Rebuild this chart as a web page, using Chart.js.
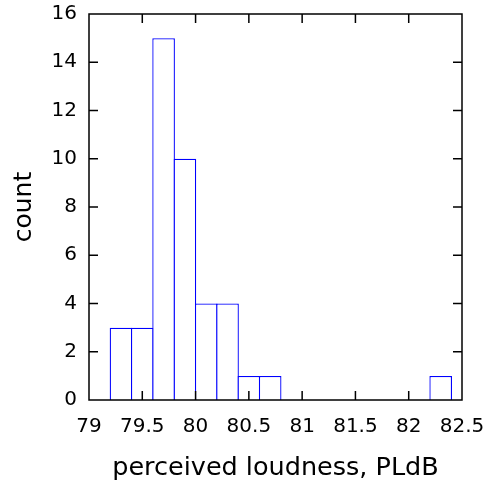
<!DOCTYPE html>
<html>
<head>
<meta charset="utf-8">
<script src="https://cdn.jsdelivr.net/npm/chart.js@4/dist/chart.umd.min.js"></script>
<style>
  body { margin: 0; background: #fff; }
  #wrap { width: 486px; height: 485px; }
</style>
</head>
<body>
<div id="wrap"><canvas id="hist" width="486" height="485"></canvas></div>
<script>
// histogram of perceived loudness (bin centres, width 0.2 PLdB)
const binCenters = [79.3, 79.5, 79.7, 79.9, 80.1, 80.3, 80.5, 80.7, 82.3];
const counts     = [3, 3, 15, 10, 4, 4, 1, 1, 1];
const xTicks = [79, 79.5, 80, 80.5, 81, 81.5, 82, 82.5];
const yTicks = [0, 2, 4, 6, 8, 10, 12, 14, 16];

const FONT = "'DejaVu Sans', Verdana, sans-serif";
const LINE = 1.3;

// gnuplot style frame with inward ticks on all four sides
const framePlugin = {
    id: 'frame',
    afterDraw(chart) {
        const ctx = chart.ctx;
        const a = chart.chartArea;
        const xs = chart.scales.x, ys = chart.scales.y;
        const len = 9;
        ctx.save();
        ctx.strokeStyle = '#000';
        ctx.lineWidth = 1.5;
        ctx.beginPath();
        xs.ticks.forEach((t, i) => {
            if (i === 0 || i === xs.ticks.length - 1) return;
            const px = xs.getPixelForTick(i);
            ctx.moveTo(px, a.bottom); ctx.lineTo(px, a.bottom - len);
            ctx.moveTo(px, a.top); ctx.lineTo(px, a.top + len);
        });
        ys.ticks.forEach((t, i) => {
            if (i === 0 || i === ys.ticks.length - 1) return;
            const py = ys.getPixelForTick(i);
            ctx.moveTo(a.left, py); ctx.lineTo(a.left + len, py);
            ctx.moveTo(a.right, py); ctx.lineTo(a.right - len, py);
        });
        ctx.stroke();
        ctx.strokeRect(a.left, a.top, a.right - a.left, a.bottom - a.top);
        ctx.restore();
    }
};

// widen each bar by one line width so neighbouring outlines overlap into a single edge
const outlinePlugin = {
    id: 'outline',
    beforeUpdate(chart) {
        const xs = chart.scales.x;
        if (!xs || !xs.width) return;
        const binPx = Math.abs(xs.getPixelForValue(79.4) - xs.getPixelForValue(79.2));
        chart.data.datasets[0].barPercentage = 1 + LINE / binPx;
    }
};

const chart = new Chart(document.getElementById('hist'), {
    type: 'bar',
    data: {
        datasets: [{
            data: binCenters.map((x, i) => ({ x: x, y: counts[i] })),
            backgroundColor: '#ffffff',
            borderColor: '#0000ff',
            borderWidth: LINE,
            borderSkipped: 'bottom',
            barPercentage: 1,
            categoryPercentage: 1
        }]
    },
    options: {
        responsive: false,
        animation: false,
        devicePixelRatio: 1,
        layout: { padding: { top: 14, right: 24, left: 0, bottom: 0 } },
        plugins: { legend: { display: false }, tooltip: { enabled: false } },
        scales: {
            x: {
                type: 'linear',
                offset: false,
                min: 79, max: 82.5,
                grid: { display: false, drawTicks: false, offset: false },
                border: { display: false },
                afterBuildTicks: s => { s.ticks = xTicks.map(v => ({ value: v })); },
                afterFit: s => { s.height = 85; s.paddingLeft = 0; s.paddingRight = 0; },
                ticks: {
                    padding: 15,
                    color: '#000',
                    font: { family: FONT, size: 20 },
                    maxRotation: 0,
                    callback: v => String(v)
                },
                title: {
                    display: true,
                    text: 'perceived loudness, PLdB',
                    color: '#000',
                    font: { family: FONT, size: 25.5 },
                    padding: { top: 0, bottom: 1 }
                }
            },
            y: {
                min: 0, max: 16,
                grid: { display: false, drawTicks: false },
                border: { display: false },
                afterBuildTicks: s => { s.ticks = yTicks.map(v => ({ value: v })); },
                afterFit: s => { s.width = 89; s.paddingTop = 0; s.paddingBottom = 0; },
                ticks: {
                    padding: 12,
                    color: '#000',
                    font: { family: FONT, size: 20 }
                },
                title: {
                    display: true,
                    text: 'count',
                    color: '#000',
                    font: { family: FONT, size: 25 },
                    padding: { top: 9, bottom: 0 }
                }
            }
        }
    },
    plugins: [framePlugin, outlinePlugin]
});
chart.update();
</script>
</body>
</html>
